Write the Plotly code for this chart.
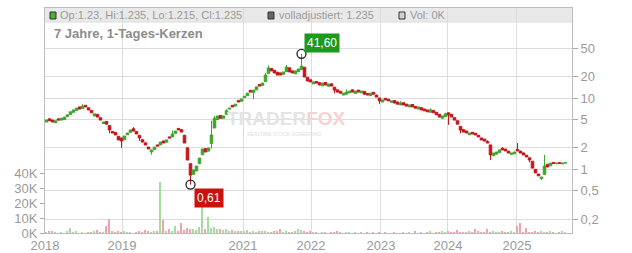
import plotly.graph_objects as go
import math

# ---- data -------------------------------------------------------------
closes = [
    4.9, 4.8, 4.6, 4.8, 4.9, 5.2, 5.4, 5.8, 6.4, 6.8,
    7.2, 7.0, 7.7, 7.5, 6.8, 6.2, 6.0, 5.4, 4.9, 4.6,
    4.3, 3.56, 3.23, 3.03, 2.58, 2.49, 2.93, 3.23, 3.56, 3.44,
    3.13, 2.75, 2.41, 2.19, 1.93, 1.87, 2.05, 2.12, 2.41, 2.34,
    2.58, 2.75, 3.13, 3.44, 3.56, 3.33, 2.34, 1.35, 0.83, 0.98,
    1.11, 1.44, 1.93, 1.75, 1.99, 3.03, 5.2, 5.6, 5.2, 5.6,
    6.6, 7.2, 7.5, 8.2, 8.8, 9.7, 10.6, 11.7, 12.1, 12.9,
    14.3, 14.7, 16.2, 21.0, 26.4, 24.0, 22.4, 21.0, 21.0, 23.2,
    27.2, 23.2, 22.4, 24.0, 25.5, 28.0, 19.7, 17.3, 16.8, 16.8,
    16.2, 15.2, 16.2, 15.2, 15.7, 14.7, 12.9, 12.1, 11.7, 11.7,
    12.1, 12.5, 12.1, 12.5, 12.1, 12.5, 11.3, 11.0, 11.7, 11.3,
    10.3, 9.1, 9.4, 9.4, 9.1, 9.1, 8.5, 8.2, 8.5, 8.0,
    7.7, 8.0, 7.5, 7.2, 7.5, 6.8, 6.6, 6.4, 6.8, 6.2,
    5.8, 5.4, 5.6, 6.0, 5.8, 5.4, 4.9, 4.3, 3.56, 3.33,
    3.23, 3.23, 3.13, 3.03, 2.84, 2.58, 2.49, 2.34, 1.59, 1.69,
    1.75, 1.87, 1.87, 1.81, 1.69, 1.69, 1.75, 1.81, 1.69, 1.59,
    1.49, 1.35, 1.04, 0.89, 0.81, 0.78, 1.11, 1.08, 1.22, 1.21,
    1.22, 1.21, 1.22, 1.235,
]
opens = [
    4.6, 5.1, 4.9, 4.5, 5.1, 4.9, 5.0, 5.5, 5.9, 6.3,
    6.7, 7.5, 7.1, 7.9, 7.3, 6.7, 5.6, 5.9, 5.3, 4.4,
    4.7, 4.1, 3.4, 3.3, 2.9, 2.75, 2.6, 3.05, 3.3, 3.7,
    3.4, 3.0, 2.6, 2.35, 2.05, 1.75, 1.9, 2.2, 2.2, 2.5,
    2.4, 2.85, 2.85, 3.2, 3.75, 3.6, 3.0, 2.0, 1.2, 0.85,
    0.95, 1.2, 1.6, 1.95, 1.8, 2.3, 3.8, 5.0, 5.7, 5.2,
    5.9, 7.0, 7.9, 7.7, 9.2, 9.0, 10.1, 10.8, 12.8, 12.0,
    13.0, 15.5, 15.0, 17.0, 22.0, 26.0, 24.5, 23.0, 22.5, 21.5,
    23.5, 26.5, 24.0, 21.8, 23.5, 25.0, 27.0, 19.5, 18.0, 15.8,
    17.0, 16.4, 14.8, 16.5, 14.6, 15.8, 14.2, 13.0, 12.4, 11.0,
    11.3, 11.8, 13.0, 11.6, 12.9, 11.8, 12.4, 11.6, 10.8, 12.0,
    11.0, 10.0, 8.8, 9.9, 9.6, 8.7, 9.2, 8.8, 8.0, 8.6,
    8.2, 7.5, 8.1, 7.6, 7.0, 7.3, 7.0, 6.8, 6.3, 6.7,
    6.3, 5.9, 5.2, 5.5, 6.2, 5.9, 5.3, 4.8, 4.0, 3.6,
    3.45, 3.05, 3.3, 3.2, 3.0, 2.75, 2.65, 2.45, 2.2, 1.55,
    1.63, 1.72, 1.97, 1.92, 1.8, 1.62, 1.65, 1.9, 1.8, 1.7,
    1.58, 1.45, 1.3, 1.0, 0.86, 0.74, 0.85, 1.18, 1.12, 1.25,
    1.2, 1.24, 1.19, 1.23,
]
wick_high = {12: 8.2, 25: 2.6, 29: 3.9, 42: 3.5, 55: 4.8, 56: 5.6, 60: 7.0,
             73: 22.5, 74: 28.5, 80: 29.0, 85: 41.6, 100: 13.2, 118: 9.0,
             128: 7.2, 133: 6.2, 147: 2.55, 152: 2.05, 157: 2.34, 166: 1.59}
wick_low = {21: 3.2, 25: 1.99, 31: 2.5, 35: 1.6, 48: 0.61, 55: 1.95, 69: 9.6,
            96: 11.6, 111: 8.3, 134: 4.2, 138: 3.2, 148: 1.35, 161: 1.25,
            165: 0.71}

volume_k = [
    0.3, 1.0, 0.8, 0.5, 0, 0.4, 0, 1.3, 3.5, 0.3,
    1.2, 0, 0.5, 0, 0.4, 0.3, 0.8, 2.0, 0.5, 0.6,
    4.5, 9.3, 1.5, 0.5, 0.8, 0.4, 1.0, 0.3, 0.5, 0,
    0.6, 1.0, 0.4, 2.0, 1.5, 0.6, 0.8, 1.5, 34, 8.7,
    1.5, 2.5, 1.0, 5.0, 1.5, 6.7, 2.0, 3.5, 3.0, 2.5,
    2.0, 4.0, 27, 3.0, 11, 3.5, 4.0, 2.5, 3.0, 2.0,
    2.5, 1.5, 2.0, 1.0, 1.5, 0.8, 1.2, 2.0, 0.5, 1.0,
    0.5, 1.5, 0.8, 1.0, 0.5, 0.3, 0.8, 1.0, 2.5, 0.5,
    0.8, 0.3, 0.5, 1.0, 3.0, 2.0, 1.5, 0.5, 0.8, 0.3,
    0.5, 0, 0.4, 0.3, 0, 0.5, 0.3, 0.8, 0.5, 0,
    0.3, 0.4, 0, 0.3, 0, 0.5, 0, 0.3, 0, 0.4,
    0, 0.3, 0, 0.5, 0, 0, 0.3, 0, 0, 0.4,
    0, 0.3, 0, 1.3, 0, 0.3, 0, 0.4, 1.0, 0,
    0.3, 0.5, 1.2, 0.3, 1.5, 0.4, 0.3, 2.0, 0.5, 0.3,
    0.4, 1.4, 0.3, 2.5, 1.0, 0.5, 0.3, 2.7, 0.4, 1.5,
    0.3, 0.5, 1.0, 0.3, 0.5, 1.5, 0.3, 4.7, 6.7, 0.5,
    3.3, 0.4, 0.5, 1.0, 0.3, 1.5, 0.5, 0.3, 1.0, 0.3,
    0, 0.3, 1.0, 0.3,
]

year_labels = ["2018", "2019", "2021", "2022", "2023", "2024", "2025"]
year_pos = [-0.5, 25.17, 65.5, 88.17, 111.5, 133.83, 156.83]

price_ticks = [50, 20, 10, 5, 2, 1, 0.5, 0.2]
price_tick_text = ["50", "20", "10", "5", "2", "1", "0,5", "0,2"]
vol_ticks = [0, 10000, 20000, 30000, 40000]
vol_tick_text = ["0K", "10K", "20K", "30K", "40K"]

high_label = "41,60"
low_label = "0,61"
legend_texts = ["Op:1.23, Hi:1.235, Lo:1.215, Cl:1.235",
                "volladjustiert: 1.235", "Vol: 0K"]
title_text = "7 Jahre, 1-Tages-Kerzen"

# ---- derived ----------------------------------------------------------
n = len(closes)
idx = list(range(n))
highs = [max(o, c) for o, c in zip(opens, closes)]
lows = [min(o, c) for o, c in zip(opens, closes)]
for k, v in wick_high.items():
    highs[k] = v
for k, v in wick_low.items():
    lows[k] = v
volumes = [v * 1000 for v in volume_k]

GREEN = "#3fa52c"
RED = "#c4161c"
VGREEN = "#a6dca0"
VRED = "#f1a3ad"
vol_colors = [VGREEN if c >= o else VRED for o, c in zip(opens, closes)]

FONT = "Liberation Sans, Arial, sans-serif"
TXT = "#9a9a9a"
GRID = "#dcdcdc"

fig = go.Figure()
fig.add_trace(go.Bar(x=idx, y=volumes, marker=dict(color=vol_colors, line_width=0),
                     width=0.5, yaxis="y", showlegend=False))
fig.add_trace(go.Candlestick(
    x=idx, open=opens, high=highs, low=lows, close=closes, yaxis="y2",
    increasing=dict(line=dict(color=GREEN, width=1), fillcolor=GREEN),
    decreasing=dict(line=dict(color=RED, width=1), fillcolor=RED),
    whiskerwidth=0, showlegend=False))

hi_i = max(wick_high, key=lambda k: highs[k])
lo_i = min(wick_low, key=lambda k: lows[k])
fig.add_trace(go.Scatter(x=[hi_i, lo_i], y=[highs[hi_i], lows[lo_i]], yaxis="y2",
                         mode="markers", showlegend=False,
                         marker=dict(symbol="circle-open", size=9,
                                     line=dict(color="#222", width=1.3),
                                     color="#222")))

pmin, pmax = -0.893, 2.262
fig.update_layout(
    width=632, height=253,
    margin=dict(l=45, r=60, t=8, b=20, autoexpand=False),
    paper_bgcolor="white", plot_bgcolor="white",
    font=dict(family=FONT, color=TXT, size=13),
    bargap=0, boxgap=0.15, boxgroupgap=0,
    xaxis=dict(range=[-0.5, 175.17], tickvals=year_pos, ticktext=year_labels,
               showgrid=True, gridcolor=GRID, gridwidth=1, zeroline=False,
               showline=True, linecolor="#bdbdbd", mirror=True, ticks="",
               tickfont=dict(size=13, color=TXT), rangeslider=dict(visible=False),
               fixedrange=True, automargin=False),
    yaxis=dict(range=[0, 150000], tickvals=vol_ticks, ticktext=vol_tick_text,
               showgrid=False, zeroline=False, showline=True, linecolor="#bdbdbd",
               ticks="outside", ticklen=4, tickcolor="#aaa",
               tickfont=dict(size=13, color=TXT), fixedrange=True, automargin=False),
    yaxis2=dict(type="log", range=[pmin, pmax], overlaying="y", side="right",
                tickvals=price_ticks, ticktext=price_tick_text,
                showgrid=True, gridcolor=GRID, gridwidth=1, zeroline=False,
                showline=True, linecolor="#bdbdbd", ticks="outside", ticklen=5,
                tickcolor="#aaa", tickfont=dict(size=13, color=TXT), fixedrange=True,
                automargin=False),
)

def px_x(p):
    return (p - 45) / 527.0

def px_y(p):
    return (233 - p) / 225.0

shapes = [
    dict(type="rect", xref="paper", yref="paper", x0=0, x1=1, y0=px_y(22), y1=1,
         fillcolor="#e9e9e9", line=dict(width=0), layer="below"),
    dict(type="line", xref="paper", yref="paper", x0=0, x1=1, y0=px_y(22), y1=px_y(22),
         line=dict(color=GRID, width=1), layer="below"),
]
for x0, col in [(50, "#4fae3a"), (268, "#666666"), (399, "#d0d0d0")]:
    shapes.append(dict(type="rect", xref="paper", yref="paper",
                       x0=px_x(x0), x1=px_x(x0 + 6), y0=px_y(19), y1=px_y(12),
                       fillcolor=col, line=dict(color="#333", width=1)))
fig.update_layout(shapes=shapes)

ann = []
for x0, t in zip([58, 277, 408], legend_texts):
    ann.append(dict(xref="paper", yref="paper", x=px_x(x0), y=px_y(15.5),
                    xanchor="left", yanchor="middle", showarrow=False, text=t,
                    font=dict(size=11, color="#999", family=FONT)))
ann.append(dict(xref="paper", yref="paper", x=px_x(52), y=px_y(33),
                xanchor="left", yanchor="middle", showarrow=False,
                text="<b>" + title_text + "</b>",
                font=dict(size=13, color="#8c8c8c", family=FONT)))
# watermark
ann.append(dict(xref="paper", yref="paper", x=px_x(286), y=px_y(119),
                xanchor="center", yanchor="middle", showarrow=False,
                text="<b>TRADER<span style='color:#f5d2d2'>FOX</span></b>",
                font=dict(size=19, color="#e4e4e4", family=FONT)))
ann.append(dict(xref="paper", yref="paper", x=px_x(284), y=px_y(134),
                xanchor="center", yanchor="middle", showarrow=False,
                text="REALTIME STOCK SCREENING",
                font=dict(size=5, color="#e0e0e0", family=FONT)))
# high / low labels
ann.append(dict(x=hi_i, y=math.log10(highs[hi_i]), xref="x", yref="y2",
                text=high_label, showarrow=False, xanchor="left", yanchor="bottom",
                xshift=2, yshift=1, bgcolor="#1d9a1d", borderpad=2,
                font=dict(size=12, color="white", family=FONT)))
ann.append(dict(x=lo_i, y=math.log10(lows[lo_i]), xref="x", yref="y2",
                text=low_label, showarrow=False, xanchor="left", yanchor="top",
                xshift=3, yshift=-3, bgcolor="#cc1010", borderpad=2,
                font=dict(size=12, color="white", family=FONT)))
fig.update_layout(annotations=ann)

fig.write_html("out.html")
